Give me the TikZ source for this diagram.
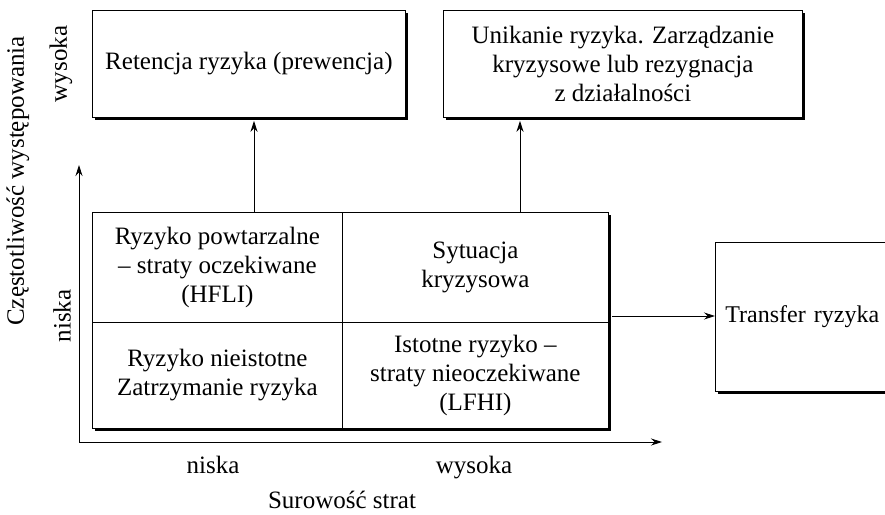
\documentclass[tikz,border=0pt]{standalone}
\usepackage{fontspec}
\setmainfont{Liberation Serif}
\usetikzlibrary{arrows.meta,shadows}
\begin{document}
\begin{tikzpicture}[x=1pt,y=-1pt,
  every node/.style={font=\fontsize{25}{29}\selectfont, inner sep=0pt},
  box/.style={draw=black, line width=0.8pt, fill=white,
    drop shadow={shadow xshift=3pt, shadow yshift=-3pt, opacity=1, fill=black},
    anchor=north west, align=center},
  cell/.style={draw=black, line width=0.8pt, anchor=north west, align=center},
  tip/.tip={Stealth[length=11pt,width=7pt]},
  arr/.style={line width=0.9pt, -tip},
  lab/.style={anchor=base}
]
\useasboundingbox (0,0) rectangle (885,514);
\clip (0,0) rectangle (885,514);

% top boxes
\node[box, minimum width=313pt, minimum height=107pt] (ret) at (92,10) {Retencja ryzyka (prewencja)};
\node[box, minimum width=359pt, minimum height=107pt] (uni) at (443,10) {Unikanie ryzyka. Zarządzanie\\kryzysowe lub rezygnacja\\z działalności};

% transfer box (cut at the right edge)
\node[box, align=left, text width=170pt, inner xsep=10pt, minimum height=149pt,
      font=\fontsize{24}{29}\selectfont] (tr) at (715,242) {Transfer ryzyka};

% grid
\node[box, minimum width=516pt, minimum height=216pt] (grid) at (92,212) {};
\node[cell, minimum width=250pt, minimum height=110pt] (c11) at (92,212) {Ryzyko powtarzalne\\– straty oczekiwane\\(HFLI)};
\node[cell, minimum width=266pt, minimum height=110pt] (c12) at (342,212) {Sytuacja\\kryzysowa};
\node[cell, minimum width=250pt, minimum height=106pt] (c21) at (92,322) {Ryzyko nieistotne\\Zatrzymanie ryzyka};
\node[cell, minimum width=266pt, minimum height=106pt] (c22) at (342,322) {Istotne ryzyko –\\straty nieoczekiwane\\(LFHI)};

% axes
\coordinate (o) at (79,442);
\coordinate (ytip) at (79,165);
\coordinate (xtip) at (662,442);
\draw[line width=0.9pt, tip-tip] (ytip) -- (o) -- (xtip);

% axis labels
\node[rotate=90] (ylab) at (18,181) {Częstotliwość występowania};
\node[rotate=90] (yhigh) at (61,64) {wysoka};
\node[rotate=90] (ylow) at (62,316) {niska};
\node[lab] (xlow) at (213,473) {niska};
\node[lab] (xhigh) at (474,473) {wysoka};
\node[lab] (xlab) at (342,508) {Surowość strat};

% connectors
\coordinate (a1) at (254,0);
\coordinate (a2) at (520,0);
\coordinate (a3) at (0,316);
\draw[arr, shorten >=3pt] (grid.north -| a1) -- (ret.south -| a1);
\draw[arr, shorten >=3pt] (grid.north -| a2) -- (uni.south -| a2);
\draw[arr, shorten <=3pt] (grid.east |- a3) -- (tr.west |- a3);
\end{tikzpicture}
\end{document}
